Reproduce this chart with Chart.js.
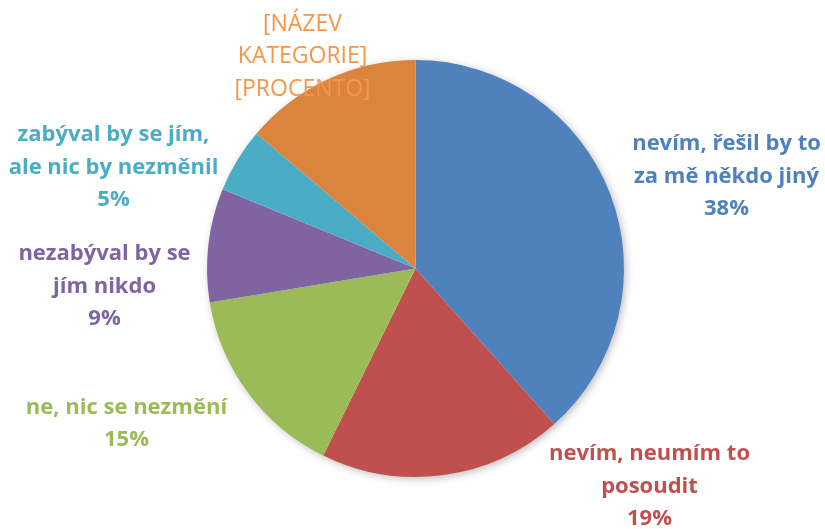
<!DOCTYPE html>
<html>
<head>
<meta charset="utf-8">
<script src="https://cdn.jsdelivr.net/npm/chart.js@4.4.1/dist/chart.umd.min.js"></script>
<style>
  html, body { margin: 0; padding: 0; background: #fff; }
  #wrap { width: 825px; height: 529px; }
</style>
</head>
<body>
<div id="wrap"><canvas id="pieChart" width="825" height="529"></canvas></div>
<script>
    "use strict";

    // Data
    var categories = [
        "nevím, řešil by to za mě někdo jiný",
        "nevím, neumím to posoudit",
        "ne, nic se nezmění",
        "nezabýval by se jím nikdo",
        "zabýval by se jím, ale nic by nezměnil",
        "[NÁZEV KATEGORIE]"
    ];
    var values = [38.4, 18.9, 15.1, 8.8, 5.0, 13.8];

    // label lines as shown on the picture (percentage is added below them)
    var labelLines = [
        ["nevím, řešil by to", "za mě někdo jiný"],
        ["nevím, neumím to", "posoudit"],
        ["ne, nic se nezmění"],
        ["nezabýval by se", "jím nikdo"],
        ["zabýval by se jím,", "ale nic by nezměnil"],
        ["[NÁZEV", "KATEGORIE]"]
    ];

    var sliceColors = ['#4F81BD', '#C0504D', '#9BBB59', '#8064A2', '#4BACC6', '#DA843D'];
    var textColors  = ['#4F81BD', '#C0504D', '#9BBB59', '#8064A2', '#4BACC6', '#F79646'];

    // label centre offsets from the pie centre, in pixels
    var labelOffsets = [
        [311, -92], [234, 218], [-289, 155], [-311, 18], [-302, -101], [-113, -212]
    ];

    // Soft shadow under the pie
    var pieShadow = {
        id: 'pieShadow',
        beforeDatasetsDraw: function (chart) {
            var arc = chart.getDatasetMeta(0).data[0];
            var ctx = chart.ctx;
            ctx.save();
            ctx.shadowColor = 'rgba(0,0,0,0.28)';
            ctx.shadowBlur = 9;
            ctx.shadowOffsetX = 2;
            ctx.shadowOffsetY = 2;
            ctx.fillStyle = '#ffffff';
            ctx.beginPath();
            ctx.arc(arc.x, arc.y, arc.outerRadius - 0.5, 0, Math.PI * 2);
            ctx.fill();
            ctx.restore();
        }
    };

    // Labels outside the slices
    var outsideLabels = {
        id: 'outsideLabels',
        afterDraw: function (chart) {
            var ctx = chart.ctx;
            var meta = chart.getDatasetMeta(0);
            var cx = meta.data[0].x, cy = meta.data[0].y;
            var total = values.reduce(function (a, b) { return a + b; }, 0);
            ctx.save();
            ctx.textAlign = 'center';
            ctx.textBaseline = 'middle';
            meta.data.forEach(function (arc, i) {
                var lines = labelLines[i].slice();
                var bold = i !== 5;
                if (i === 5) {
                    lines.push('[PROCENTO]');
                    ctx.font = '23px "Open Sans", sans-serif';
                } else {
                    lines.push(Math.round(values[i] / total * 100) + '%');
                    ctx.font = 'bold 22px "Open Sans", sans-serif';
                }
                ctx.fillStyle = textColors[i];
                var lh = 32.5;
                var x = cx + labelOffsets[i][0];
                var y = cy + labelOffsets[i][1] - (lines.length - 1) * lh / 2;
                lines.forEach(function (line, k) {
                    ctx.fillText(line, x, y + k * lh);
                });
            });
            ctx.restore();
        }
    };

    var ctx = document.getElementById('pieChart').getContext('2d');
    new Chart(ctx, {
        type: 'pie',
        data: {
            labels: categories,
            datasets: [{
                data: values,
                backgroundColor: sliceColors,
                borderWidth: 0
            }]
        },
        options: {
            responsive: false,
            animation: false,
            layout: {
                padding: { left: 207, right: 201, top: 60, bottom: 52 }
            },
            plugins: {
                legend: { display: false },
                tooltip: { enabled: false }
            }
        },
        plugins: [pieShadow, outsideLabels]
    });
</script>
</body>
</html>
